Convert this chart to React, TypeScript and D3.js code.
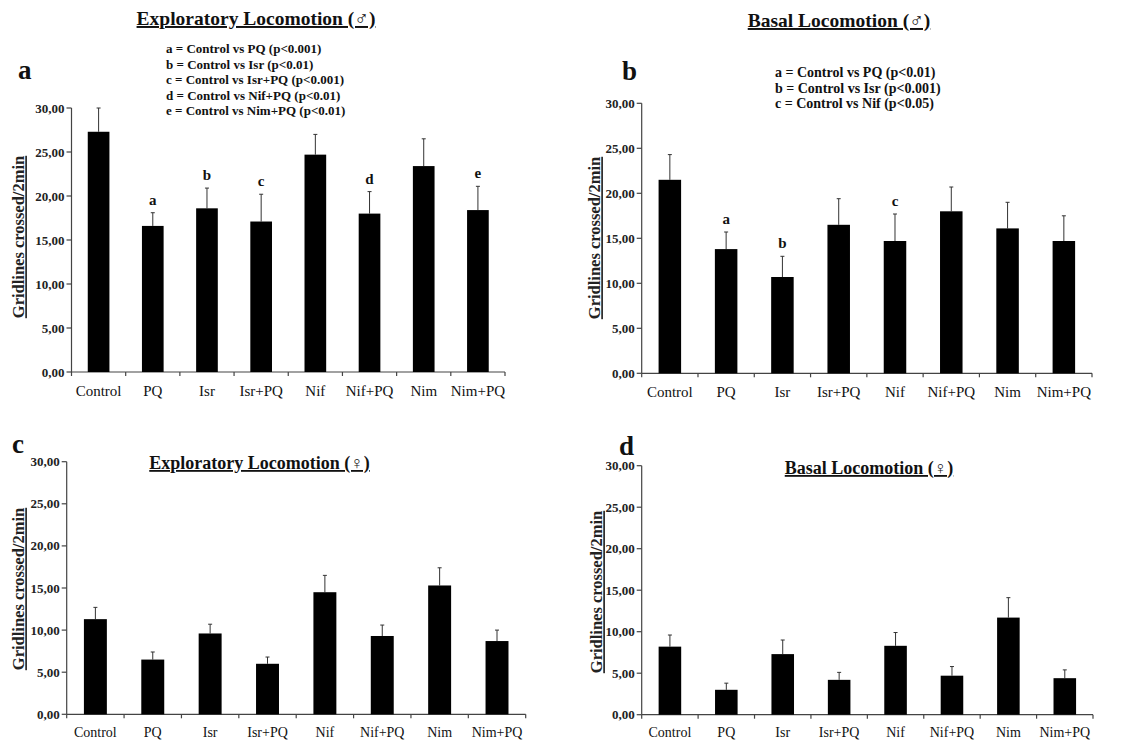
import React from "react";
import * as d3 from "d3";

// Treatment groups shared by all four panels
const groups = ["Control", "PQ", "Isr", "Isr+PQ", "Nif", "Nif+PQ", "Nim", "Nim+PQ"];

// Panel a — exploratory locomotion, males (mean and upper SEM)
const exploratoryMaleMean = [27.3, 16.6, 18.6, 17.1, 24.7, 18.0, 23.4, 18.4];
const exploratoryMaleErr = [2.7, 1.5, 2.3, 3.1, 2.3, 2.5, 3.1, 2.7];
const exploratoryMaleMarks = ["", "a", "b", "c", "", "d", "", "e"];
const exploratoryMaleNotes = [
  "a = Control vs PQ (p<0.001)",
  "b = Control vs Isr (p<0.01)",
  "c = Control vs Isr+PQ (p<0.001)",
  "d = Control vs Nif+PQ (p<0.01)",
  "e = Control vs Nim+PQ (p<0.01)",
];

// Panel b — basal locomotion, males
const basalMaleMean = [21.5, 13.8, 10.7, 16.5, 14.7, 18.0, 16.1, 14.7];
const basalMaleErr = [2.8, 1.9, 2.3, 2.9, 3.0, 2.7, 2.9, 2.8];
const basalMaleMarks = ["", "a", "b", "", "c", "", "", ""];
const basalMaleNotes = [
  "a = Control vs PQ (p<0.01)",
  "b = Control vs Isr (p<0.001)",
  "c = Control vs Nif (p<0.05)",
];

// Panel c — exploratory locomotion, females
const exploratoryFemaleMean = [11.3, 6.5, 9.6, 6.0, 14.5, 9.3, 15.3, 8.7];
const exploratoryFemaleErr = [1.4, 0.9, 1.1, 0.8, 2.0, 1.3, 2.1, 1.3];

// Panel d — basal locomotion, females
const basalFemaleMean = [8.2, 3.0, 7.3, 4.2, 8.3, 4.7, 11.7, 4.4];
const basalFemaleErr = [1.4, 0.8, 1.7, 0.9, 1.6, 1.1, 2.4, 1.0];

const yTicks = [0, 5, 10, 15, 20, 25, 30];
const yTitle = "Gridlines crossed/2min";

const locale = d3.formatLocale({ decimal: ",", thousands: ".", grouping: [3], currency: ["", ""] });
const fmt = locale.format(".2f");

const SERIF = "'Liberation Serif', 'Times New Roman', 'DejaVu Serif', serif";
const AXIS = "#444";

type PanelProps = {
  letter: string;
  title: string;
  mean: number[];
  err: number[];
  marks?: string[];
  notes?: string[];
  x0: number;
  x1: number;
  yTop: number;
  yBottom: number;
  titleX: number;
  titleY: number;
  titleSize: number;
  letterX: number;
  letterY: number;
  notesX?: number;
  notesY?: number;
  notesGap?: number;
  notesSize?: number;
  yTitleX: number;
  yTitleY: number;
  xLabelY: number;
  xLabelSize: number;
};

function Panel(p: PanelProps) {
  const x = d3.scaleBand<string>().domain(groups).range([p.x0, p.x1]).paddingInner(0.6).paddingOuter(0.3);
  const y = d3.scaleLinear().domain([0, 30]).range([p.yBottom, p.yTop]);
  const step = x.step();
  const bw = x.bandwidth();
  return (
    <g>
      <text x={p.letterX} y={p.letterY} fontFamily={SERIF} fontWeight="bold" fontSize={27} fill="#111">
        {p.letter}
      </text>
      <text
        x={p.titleX}
        y={p.titleY}
        textAnchor="middle"
        fontFamily={SERIF}
        fontWeight="bold"
        fontSize={p.titleSize}
        fill="#111"
        style={{ textDecoration: "underline" }}
      >
        {p.title}
      </text>
      {p.notes &&
        p.notes.map((n, i) => (
          <text
            key={n}
            x={p.notesX}
            y={(p.notesY ?? 0) + i * (p.notesGap ?? 15)}
            fontFamily={SERIF}
            fontWeight="bold"
            fontSize={p.notesSize ?? 13}
            fill="#111"
          >
            {n}
          </text>
        ))}
      {/* y axis */}
      <line x1={p.x0} x2={p.x0} y1={y(30)} y2={y(0)} stroke={AXIS} strokeWidth={1.2} />
      {yTicks.map((t) => (
        <g key={t}>
          <line x1={p.x0 - 5} x2={p.x0} y1={y(t)} y2={y(t)} stroke={AXIS} strokeWidth={1.2} />
          <text
            x={p.x0 - 7}
            y={y(t)}
            dy="0.35em"
            textAnchor="end"
            fontFamily={SERIF}
            fontWeight="bold"
            fontSize={13}
            fill="#222"
          >
            {fmt(t)}
          </text>
        </g>
      ))}
      <text
        transform={`translate(${p.yTitleX},${p.yTitleY}) rotate(-90)`}
        dy="0.35em"
        textAnchor="middle"
        fontFamily={SERIF}
        fontWeight="bold"
        fontSize={16.5}
        fill="#222"
        style={{ textDecoration: "underline" }}
      >
        {yTitle}
      </text>
      {/* x axis */}
      <line x1={p.x0} x2={p.x1} y1={y(0)} y2={y(0)} stroke={AXIS} strokeWidth={1.2} />
      {d3.range(groups.length + 1).map((i) => (
        <line
          key={i}
          x1={p.x0 + i * step}
          x2={p.x0 + i * step}
          y1={y(0)}
          y2={y(0) + 4}
          stroke={AXIS}
          strokeWidth={1.2}
        />
      ))}
      {groups.map((g) => (
        <text
          key={g}
          x={(x(g) ?? 0) + bw / 2}
          y={p.xLabelY}
          textAnchor="middle"
          fontFamily={SERIF}
          fontSize={p.xLabelSize}
          fill="#111"
        >
          {g}
        </text>
      ))}
      {/* bars with upper error bars */}
      {groups.map((g, i) => {
        const bx = x(g) ?? 0;
        const cx = bx + bw / 2;
        const top = p.mean[i] + p.err[i];
        return (
          <g key={g}>
            <line x1={cx} x2={cx} y1={y(p.mean[i])} y2={y(top)} stroke="#333" strokeWidth={1} />
            <line x1={cx - 2} x2={cx + 2} y1={y(top)} y2={y(top)} stroke="#333" strokeWidth={1} />
            <rect x={bx} y={y(p.mean[i])} width={bw} height={y(0) - y(p.mean[i])} fill="#000" />
            {p.marks && p.marks[i] && (
              <text
                x={cx}
                y={y(top) - 8}
                textAnchor="middle"
                fontFamily={SERIF}
                fontWeight="bold"
                fontSize={15}
                fill="#111"
              >
                {p.marks[i]}
              </text>
            )}
          </g>
        );
      })}
    </g>
  );
}

export default function App() {
  return (
    <svg
      width={1142}
      height={741}
      viewBox="0 0 1142 741"
      style={{ position: "absolute", left: 0, top: 0, background: "#fff" }}
    >
      <rect width={1142} height={741} fill="#fff" />
      <Panel
        letter="a"
        title="Exploratory Locomotion (♂)"
        mean={exploratoryMaleMean}
        err={exploratoryMaleErr}
        marks={exploratoryMaleMarks}
        notes={exploratoryMaleNotes}
        x0={71.5}
        x1={505}
        yTop={108}
        yBottom={372}
        titleX={256}
        titleY={25}
        titleSize={19.5}
        letterX={18}
        letterY={79}
        notesX={166}
        notesY={53}
        notesGap={15.5}
        notesSize={13}
        yTitleX={18.5}
        yTitleY={237}
        xLabelY={396}
        xLabelSize={15}
      />
      <Panel
        letter="b"
        title="Basal Locomotion (♂)"
        mean={basalMaleMean}
        err={basalMaleErr}
        marks={basalMaleMarks}
        notes={basalMaleNotes}
        x0={641.7}
        x1={1092}
        yTop={103.3}
        yBottom={373.3}
        titleX={839}
        titleY={27}
        titleSize={19.5}
        letterX={622}
        letterY={80}
        notesX={775}
        notesY={77}
        notesGap={15.5}
        notesSize={14}
        yTitleX={594.5}
        yTitleY={238}
        xLabelY={397}
        xLabelSize={15}
      />
      <Panel
        letter="c"
        title="Exploratory Locomotion (♀)"
        mean={exploratoryFemaleMean}
        err={exploratoryFemaleErr}
        x0={66.7}
        x1={525.7}
        yTop={461.7}
        yBottom={714.3}
        titleX={259.5}
        titleY={469}
        titleSize={18}
        letterX={12}
        letterY={453}
        yTitleX={18.5}
        yTitleY={589}
        xLabelY={737}
        xLabelSize={14}
      />
      <Panel
        letter="d"
        title="Basal Locomotion (♀)"
        mean={basalFemaleMean}
        err={basalFemaleErr}
        x0={641.7}
        x1={1093}
        yTop={465.7}
        yBottom={714.7}
        titleX={869}
        titleY={474}
        titleSize={18}
        letterX={619}
        letterY={455}
        yTitleX={596.5}
        yTitleY={592}
        xLabelY={737}
        xLabelSize={14}
      />
    </svg>
  );
}
